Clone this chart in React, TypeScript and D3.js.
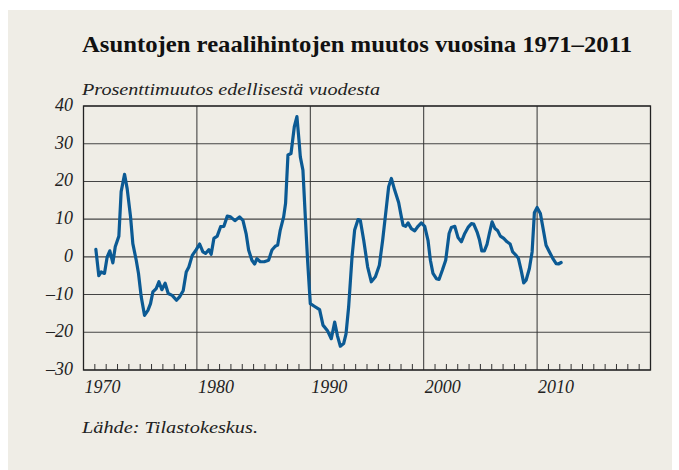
import React, { useEffect, useRef } from "react";
import * as d3 from "d3";

// decimal year of each point
const years = [
  1971.09, 1971.35, 1971.56, 1971.85, 1972.09, 1972.32, 1972.59, 1972.8, 1973.12, 1973.32,
  1973.62, 1973.85, 1974.15, 1974.35, 1974.65, 1974.85, 1975.09, 1975.38, 1975.68, 1975.91,
  1976.12, 1976.41, 1976.65, 1976.91, 1977.2, 1977.47, 1977.82, 1978.2, 1978.47, 1978.79,
  1979.06, 1979.29, 1979.59, 1979.94, 1980.24, 1980.53, 1980.76, 1981.06, 1981.26, 1981.5,
  1981.79, 1982.09, 1982.38, 1982.68, 1982.97, 1983.35, 1983.76, 1984.06, 1984.35, 1984.56,
  1984.85, 1985.09, 1985.29, 1985.59, 1985.94, 1986.32, 1986.62, 1986.91, 1987.12, 1987.35,
  1987.65, 1987.82, 1988.03, 1988.3, 1988.59, 1988.82, 1989.0, 1989.12, 1989.35, 1989.56,
  1989.76, 1990.0, 1990.35, 1990.82, 1991.12, 1991.5, 1991.85, 1992.15, 1992.4, 1992.65,
  1992.94, 1993.15, 1993.38, 1993.68, 1993.91, 1994.21, 1994.41, 1994.71, 1995.06, 1995.38,
  1995.74, 1996.09, 1996.38, 1996.68, 1996.91, 1997.15, 1997.44, 1997.79, 1998.03, 1998.18,
  1998.41, 1998.62, 1998.91, 1999.21, 1999.5, 1999.79, 2000.09, 2000.38, 2000.59, 2000.82,
  2001.12, 2001.35, 2001.65, 2001.94, 2002.24, 2002.44, 2002.74, 2003.03, 2003.32, 2003.62,
  2003.91, 2004.21, 2004.41, 2004.73, 2004.91, 2005.12, 2005.35, 2005.59, 2005.79, 2006.03,
  2006.29, 2006.53, 2006.76, 2007.06, 2007.35, 2007.62, 2007.85, 2008.15, 2008.35, 2008.59,
  2008.82, 2009.03, 2009.32, 2009.56, 2009.76, 2010.0, 2010.29, 2010.5, 2010.79, 2011.09,
  2011.38, 2011.68, 2011.88, 2012.12,
];

// prosenttimuutos edellisestä vuodesta
const change = [
  2.0, -5.0, -4.0, -4.4, 0, 1.6, -1.6, 2.7, 5.5, 17.3,
  21.9, 18.1, 10.6, 3.5, -0.9, -4.4, -10.6, -15.5, -14.2, -12.4,
  -9.3, -8.4, -6.6, -8.7, -7.0, -9.7, -10.2, -11.5, -10.6, -9.0,
  -4.0, -2.7, 0.4, 1.9, 3.4, 1.3, 0.9, 1.9, 0.7, 4.9,
  5.5, 8.0, 8.1, 10.8, 10.6, 9.6, 10.6, 9.7, 6.0, 1.8,
  -0.9, -1.9, -0.5, -1.3, -1.3, -0.9, 1.8, 2.8, 3.1, 7.1,
  10.6, 14.2, 27.0, 27.4, 34.5, 37.2, 31.0, 26.5, 23.0, 10.6,
  -0.9, -12.4, -13.1, -14.0, -18.1, -19.5, -21.7, -17.3, -21.0, -23.7,
  -23.0, -20.4, -13.3, 0, 7.1, 9.9, 9.7, 4.4, -2.7, -6.6,
  -5.3, -2.2, 4.4, 12.4, 18.6, 20.8, 17.7, 14.4, 10.6, 8.4,
  8.1, 9.0, 7.5, 6.9, 8.1, 9.0, 8.1, 4.4, -0.9, -4.4,
  -5.8, -6.0, -3.5, -0.9, 6.2, 7.8, 8.1, 5.1, 4.0, 6.2,
  7.8, 8.8, 8.7, 6.4, 4.6, 1.6, 1.6, 3.4, 6.2, 9.3,
  7.5, 6.9, 5.5, 4.9, 4.0, 3.4, 1.3, 0.4, -0.4, -3.5,
  -6.9, -6.2, -3.1, 1.3, 11.7, 13.1, 11.5, 8.0, 3.1, 1.3,
  -0.4, -1.8, -1.9, -1.5,
];

const yTicks = [40, 30, 20, 10, 0, -10, -20, -30];
const decades = [1970, 1980, 1990, 2000, 2010];

const title = "Asuntojen reaalihintojen muutos vuosina 1971–2011";
const subtitle = "Prosenttimuutos edellisestä vuodesta";
const source = "Lähde: Tilastokeskus.";

function App() {
  const ref = useRef<SVGSVGElement>(null);
  const width = 679;
  const height = 470;
  const plot = { left: 83.5, right: 650.5, top: 106, bottom: 370 };

  useEffect(() => {
    const svg = d3.select(ref.current);
    svg.selectAll("*").remove();

    svg.append("rect")
      .attr("x", 8).attr("y", 10)
      .attr("width", 664).attr("height", 460)
      .attr("fill", "#efede6");

    const x = d3.scaleLinear().domain([1970, 2020]).range([plot.left, plot.right]);
    const y = d3.scaleLinear().domain([-30, 40]).range([plot.bottom, plot.top]);

    const serif = "'Liberation Serif', serif";

    const italic = (px: number, py: number, size: number) =>
      svg.append("text")
        .attr("x", px).attr("y", py)
        .attr("font-family", serif).attr("font-style", "italic")
        .attr("font-size", size).attr("fill", "#222");

    svg.append("text")
      .attr("x", 82).attr("y", 52)
      .attr("font-family", serif).attr("font-weight", "bold")
      .attr("font-size", 24).attr("fill", "#111")
      .attr("textLength", 550).attr("lengthAdjust", "spacingAndGlyphs")
      .text(title);

    italic(82, 95, 17)
      .attr("textLength", 298).attr("lengthAdjust", "spacingAndGlyphs")
      .text(subtitle);

    // horizontal grid
    svg.append("g")
      .selectAll("line")
      .data(yTicks)
      .enter()
      .append("line")
        .attr("x1", plot.left).attr("x2", plot.right)
        .attr("y1", d => y(d)).attr("y2", d => y(d))
        .attr("stroke", "#444").attr("stroke-width", 1.1);

    // vertical grid at decades
    svg.append("g")
      .selectAll("line")
      .data(decades.slice(1))
      .enter()
      .append("line")
        .attr("x1", d => x(d)).attr("x2", d => x(d))
        .attr("y1", plot.top).attr("y2", plot.bottom)
        .attr("stroke", "#333").attr("stroke-width", 1);

    // yearly minor ticks
    const yearTicks = d3.range(1971, 2020).filter(t => t % 10 !== 0);
    svg.append("g")
      .selectAll("line")
      .data(yearTicks)
      .enter()
      .append("line")
        .attr("x1", d => x(d)).attr("x2", d => x(d))
        .attr("y1", plot.bottom).attr("y2", plot.bottom - 6)
        .attr("stroke", "#333").attr("stroke-width", 1);

    // frame
    svg.append("rect")
      .attr("x", plot.left).attr("y", plot.top)
      .attr("width", plot.right - plot.left).attr("height", plot.bottom - plot.top)
      .attr("fill", "none").attr("stroke", "#222").attr("stroke-width", 1.3);

    // y labels
    yTicks.forEach(d => {
      italic(73, y(d) + 5, 18)
        .attr("text-anchor", "end")
        .text(d < 0 ? "–" + Math.abs(d) : String(d));
    });

    // x labels
    decades.forEach(d => {
      italic(x(d) + 1, 393, 18).text(String(d));
    });

    italic(82, 433, 17)
      .attr("textLength", 176).attr("lengthAdjust", "spacingAndGlyphs")
      .text(source);

    const line = d3.line<number>()
      .x((d, i) => x(years[i]))
      .y(d => y(d));

    svg.append("path")
      .datum(change)
      .attr("d", line)
      .attr("fill", "none")
      .attr("stroke", "#0b5a94")
      .attr("stroke-width", 3.2)
      .attr("stroke-linejoin", "round")
      .attr("stroke-linecap", "round");
  }, []);

  return (
    <svg ref={ref} width={width} height={height} style={{ position: "absolute", left: 0, top: 0 }} />
  );
}

export default App;
